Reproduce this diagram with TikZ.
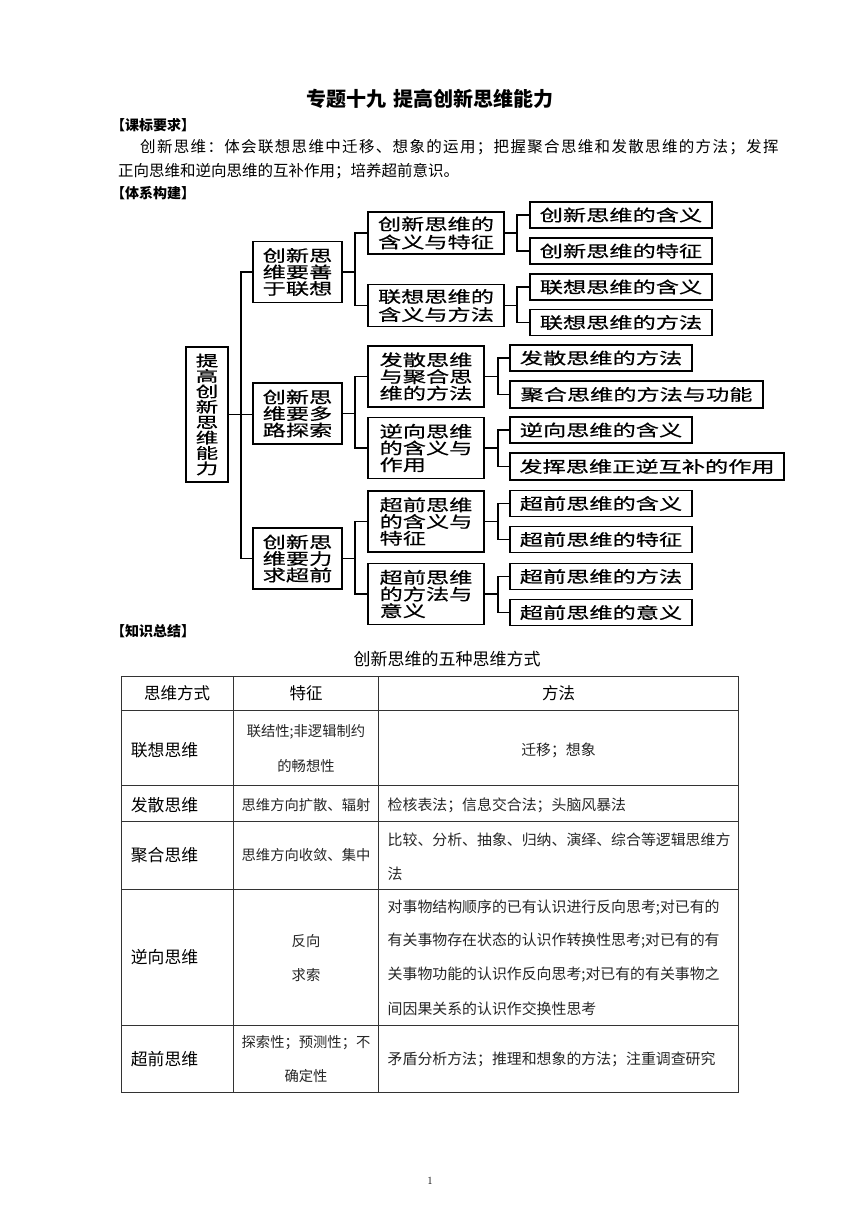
\documentclass[tikz,border=0pt]{standalone}
\usepackage{fontspec}
\newfontfamily\hei{Noto Sans CJK SC}
\newfontfamily\bodyfont[LetterSpace=8.6]{Noto Sans CJK SC}
\newfontfamily\treefont[FakeStretch=1.45,FakeBold=0.6]{Noto Sans CJK SC}
\newfontfamily\rootfont[FakeStretch=1.5,FakeBold=0.6]{Noto Sans CJK SC}
\begin{document}
\begin{tikzpicture}[x=1pt,y=-1pt,
  box/.style={draw, line width=1.8pt, inner sep=0pt, align=center,
    font=\treefont\fontsize{16}{17}\selectfont},
  leaf/.style={box, minimum height=26pt, minimum width=182pt},
  two/.style={box, minimum width=136pt, minimum height=42pt,
    font=\treefont\fontsize{16}{18}\selectfont},
  three/.style={box, minimum width=116pt, minimum height=61pt, align=left,
    font=\treefont\fontsize{16}{16.7}\selectfont},
  lone/.style={box, minimum width=89pt, minimum height=61pt,
    font=\treefont\fontsize{16}{16.5}\selectfont},
  conn/.style={line width=1.6pt},
  head/.style={anchor=west, inner sep=0pt, font=\hei\bfseries\fontsize{14}{14}\selectfont},
  body/.style={anchor=west, inner sep=0pt, font=\bodyfont\fontsize{15.5}{15.5}\selectfont},
  bodyb/.style={anchor=west, inner sep=0pt, font=\hei\fontsize{15.5}{15.5}\selectfont},
  tline/.style={line width=0.9pt, draw=black!80},
  thead/.style={inner sep=0pt, font=\hei\fontsize{16.5}{16.5}\selectfont},
  lab/.style={anchor=west, inner sep=0pt, font=\hei\fontsize{16.8}{16.8}\selectfont},
  c2/.style={inner sep=0pt, font=\hei\fontsize{14.3}{14.3}\selectfont, text=black!85},
  c3/.style={anchor=west, inner sep=0pt, font=\hei\fontsize{14.9}{14.9}\selectfont, text=black!85}
]
\useasboundingbox[fill=white] (0,0) rectangle (860,1216);

% ---------- headings ----------
\node[inner sep=0pt, font=\hei\bfseries\fontsize{20}{20}\selectfont] (title) at (430,98.5) {专题十九\hspace{7pt}提高创新思维能力};
\node[head] (h1) at (111,125) {【课标要求】};
\node[body] (p1) at (140,147) {创新思维：体会联想思维中迁移、想象的运用；把握聚合思维和发散思维的方法；发挥};
\node[bodyb] (p2) at (118,171) {正向思维和逆向思维的互补作用；培养超前意识。};
\node[head] (h2) at (111,193.5) {【体系构建】};
\node[head] (h3) at (111,631) {【知识总结】};

% ---------- tree ----------
\node[box, minimum width=42pt, minimum height=135pt, font=\rootfont\fontsize{15}{15.4}\selectfont] (R) at (207,414.5) {提\\高\\创\\新\\思\\维\\能\\力};

\node[lone] (L1a) at (297.5,272) {创新思\\维要善\\于联想};
\node[lone] (L1b) at (297.5,413.5) {创新思\\维要多\\路探索};
\node[lone] (L1c) at (297.5,558.5) {创新思\\维要力\\求超前};

\node[two] (L2a) at (436,233) {创新思维的\\含义与特征};
\node[two] (L2b) at (436,305.5) {联想思维的\\含义与方法};
\node[three] (L2c) at (426,376.5) {发散思维\\与聚合思\\维的方法};
\node[three] (L2d) at (426,448) {逆向思维\\的含义与\\作用};
\node[three] (L2e) at (426,521.5) {超前思维\\的含义与\\特征};
\node[three] (L2f) at (426,594) {超前思维\\的方法与\\意义};

\node[leaf] (a1) at (621,215) {创新思维的含义};
\node[leaf] (a2) at (621,251) {创新思维的特征};
\node[leaf] (b1) at (621,287) {联想思维的含义};
\node[leaf] (b2) at (621,322.5) {联想思维的方法};
\node[leaf] (c1) at (601,358) {发散思维的方法};
\node[leaf, minimum width=253pt, minimum height=27pt] (c2) at (636.5,394.5) {聚合思维的方法与功能};
\node[leaf] (d1) at (601,430) {逆向思维的含义};
\node[leaf, minimum width=274pt, minimum height=27pt] (d2) at (647,466.5) {发挥思维正逆互补的作用};
\node[leaf] (e1) at (601,503.5) {超前思维的含义};
\node[leaf] (e2) at (601,539.5) {超前思维的特征};
\node[leaf] (f1) at (601,576.5) {超前思维的方法};
\node[leaf] (f2) at (601,612.5) {超前思维的意义};

% connectors
\draw[conn] (R.east) -- (R.east -| L1b.west);
\draw[conn] (R.east) ++(12,0) |- (L1a.west);
\draw[conn] (R.east) ++(12,0) |- (L1c.west);

\draw[conn] (L1a.east) -- ++(12,0) |- (L2a.west);
\draw[conn] (L1a.east) ++(12,0) |- (L2b.west);
\draw[conn] (L1b.east) -- ++(12,0) |- (L2c.west);
\draw[conn] (L1b.east) ++(12,0) |- (L2d.west);
\draw[conn] (L1c.east) -- ++(12,0) |- (L2e.west);
\draw[conn] (L1c.east) ++(12,0) |- (L2f.west);

\draw[conn] (L2a.east) -- ++(12,0) |- (a1.west);
\draw[conn] (L2a.east) ++(12,0) |- (a2.west);
\draw[conn] (L2b.east) -- ++(12,0) |- (b1.west);
\draw[conn] (L2b.east) ++(12,0) |- (b2.west);
\draw[conn] (L2c.east) -- ++(13,0) |- (c1.west);
\draw[conn] (L2c.east) ++(13,0) |- (c2.west);
\draw[conn] (L2d.east) -- ++(13,0) |- (d1.west);
\draw[conn] (L2d.east) ++(13,0) |- (d2.west);
\draw[conn] (L2e.east) -- ++(13,0) |- (e1.west);
\draw[conn] (L2e.east) ++(13,0) |- (e2.west);
\draw[conn] (L2f.east) -- ++(13,0) |- (f1.west);
\draw[conn] (L2f.east) ++(13,0) |- (f2.west);

% ---------- table ----------
\node[inner sep=0pt, font=\hei\fontsize{17}{17}\selectfont] (ttitle) at (447,658.5) {创新思维的五种思维方式};

\draw[tline] (121.5,676) rectangle (738.3,1092.7);
\draw[tline] (233.3,676) -- (233.3,1092.7);
\draw[tline] (378.7,676) -- (378.7,1092.7);
\foreach \yy in {710.7,785.7,821.7,889.3,1025} \draw[tline] (121.5,\yy) -- (738.3,\yy);

\node[thead] (th1) at (177,693.3) {思维方式};
\node[thead] (th2) at (306,693.3) {特征};
\node[thead] (th3) at (558.5,693.3) {方法};

\node[lab] (r1) at (130.7,750) {联想思维};
\node[lab] (r2) at (130.7,805) {发散思维};
\node[lab] (r3) at (130.7,855.5) {聚合思维};
\node[lab] (r4) at (130.7,957.5) {逆向思维};
\node[lab] (r5) at (130.7,1059.5) {超前思维};

\node[c2] (f1a) at (306,731.5) {联结性;非逻辑制约};
\node[c2] (f1b) at (306,766.5) {的畅想性};
\node[c2] (f2a) at (306,805) {思维方向扩散、辐射};
\node[c2] (f3a) at (306,855.5) {思维方向收敛、集中};
\node[c2] (f4a) at (306,941) {反向};
\node[c2] (f4b) at (306,975) {求索};
\node[c2] (f5a) at (306,1043) {探索性；预测性；不};
\node[c2] (f5b) at (306,1076.5) {确定性};

\node[c3, anchor=center] (m1) at (558.5,750) {迁移；想象};
\node[c3] (m2) at (387.5,805) {检核表法；信息交合法；头脑风暴法};
\node[c3] (m3a) at (387.5,840) {比较、分析、抽象、归纳、演绎、综合等逻辑思维方};
\node[c3] (m3b) at (387.5,873.5) {法};
\node[c3] (m4a) at (387.5,907.5) {对事物结构顺序的已有认识进行反向思考;对已有的};
\node[c3] (m4b) at (387.5,941) {有关事物存在状态的认识作转换性思考;对已有的有};
\node[c3] (m4c) at (387.5,975) {关事物功能的认识作反向思考;对已有的有关事物之};
\node[c3] (m4d) at (387.5,1008.5) {间因果关系的认识作交换性思考};
\node[c3] (m5) at (387.5,1059.5) {矛盾分析方法；推理和想象的方法；注重调查研究};

\node[inner sep=0pt, font=\rmfamily\fontsize{11}{11}\selectfont] (pg) at (430,1181) {1};
\end{tikzpicture}
\end{document}
